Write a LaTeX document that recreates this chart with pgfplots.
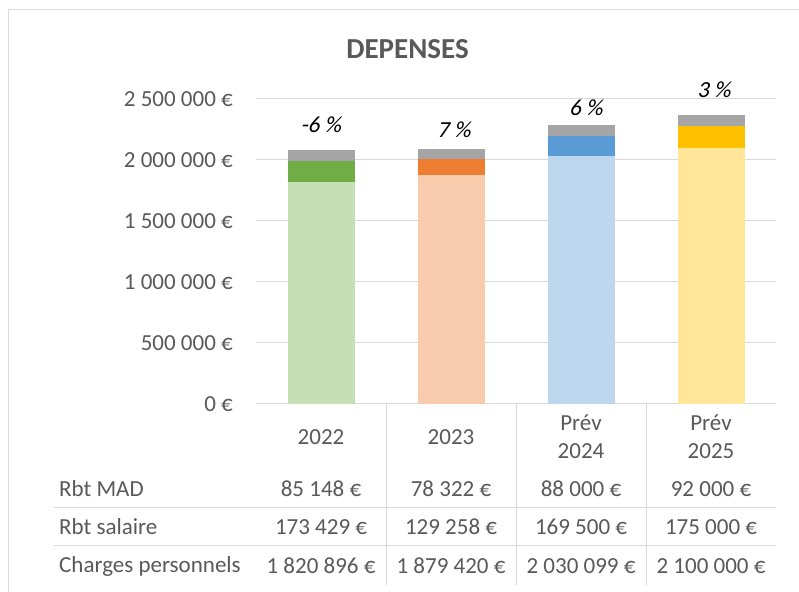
\documentclass[border=0pt]{standalone}
\usepackage{pgfplots}
\pgfplotsset{compat=1.18}
\usepackage{fontspec}
\setmainfont{Carlito}[AutoFakeSlant=0.2]
\definecolor{txt}{HTML}{595959}
\definecolor{gridc}{HTML}{D9D9D9}
\definecolor{grayb}{HTML}{A5A5A5}
\definecolor{g1}{HTML}{C5E0B4}\definecolor{g2}{HTML}{70AD47}
\definecolor{o1}{HTML}{F8CBAD}\definecolor{o2}{HTML}{ED7D31}
\definecolor{b1}{HTML}{BDD7EE}\definecolor{b2}{HTML}{5B9BD5}
\definecolor{y1}{HTML}{FFE699}\definecolor{y2}{HTML}{FFC000}
\newcommand{\fs}{\fontsize{23bp}{28bp}\selectfont}
\pgfplotsset{
  base/.style={at={(256bp,188bp)}, anchor=south west, scale only axis,
    width=520bp, height=305bp, xmin=-0.5, xmax=3.5, ymin=0, ymax=2500000,
    ybar stacked, bar width=67bp, clip=false, scaled y ticks=false},
}
\begin{document}
\begin{tikzpicture}[x=1bp,y=1bp]
\useasboundingbox (0,0) rectangle (799,592);
\fill[white] (0,0) rectangle (799,592);
\draw[gridc, line width=1bp] (8,0) -- (8,582) -- (799,582);
% axis with grid and ticks
\begin{axis}[base, axis line style={draw=none}, xtick=\empty,
  ytick={0,500000,1000000,1500000,2000000,2500000},
  yticklabels={0~€,500~000~€,1~000~000~€,1~500~000~€,2~000~000~€,2~500~000~€},
  yticklabel style={font=\fs, text=txt, inner sep=0pt, anchor=east, xshift=-23bp},
  major tick length=0pt, ymajorgrids, major grid style={gridc, line width=1bp}]
\addplot[fill=g1, draw=none] coordinates {(0,1820896)};
\addplot[fill=g2, draw=none] coordinates {(0,173429)};
\addplot[fill=grayb, draw=none] coordinates {(0,85148)};
\end{axis}
\begin{axis}[base, hide axis]
\addplot[fill=o1, draw=none] coordinates {(1,1879420)};
\addplot[fill=o2, draw=none] coordinates {(1,129258)};
\addplot[fill=grayb, draw=none] coordinates {(1,78322)};
\end{axis}
\begin{axis}[base, hide axis]
\addplot[fill=b1, draw=none] coordinates {(2,2030099)};
\addplot[fill=b2, draw=none] coordinates {(2,169500)};
\addplot[fill=grayb, draw=none] coordinates {(2,88000)};
\end{axis}
\begin{axis}[base, hide axis]
\addplot[fill=y1, draw=none] coordinates {(3,2100000)};
\addplot[fill=y2, draw=none] coordinates {(3,175000)};
\addplot[fill=grayb, draw=none] coordinates {(3,92000)};
\end{axis}
% title
\node[font=\fontsize{29bp}{34bp}\selectfont\bfseries, text=txt] at (407.5,543) {DEPENSES};
% percentage labels
\begin{scope}[every node/.style={font=\fs\itshape, text=black}]
\node at (321,467) {-6~\%};
\node at (454,462) {7~\%};
\node at (586,484) {6~\%};
\node at (714,502) {3~\%};
\end{scope}
% data table
\draw[gridc, line width=1bp] (54,84) -- (776,84) (54,46) -- (776,46);
\draw[gridc, line width=1bp] (386,188) -- (386,7) (516,188) -- (516,7) (646,188) -- (646,7);
\begin{scope}[every node/.style={font=\fs, text=txt, inner sep=0pt}]
\node at (321,155) {2022};
\node at (451,155) {2023};
\node[align=center] at (581,155) {Prév\\2024};
\node[align=center] at (711,155) {Prév\\2025};
\node[anchor=west] at (59,103) {Rbt MAD};
\node[anchor=west] at (59,65) {Rbt salaire};
\node[anchor=west] at (59,26) {Charges personnels};
\node at (321,103) {85~148~€};
\node at (451,103) {78~322~€};
\node at (581,103) {88~000~€};
\node at (711,103) {92~000~€};
\node at (321,65) {173~429~€};
\node at (451,65) {129~258~€};
\node at (581,65) {169~500~€};
\node at (711,65) {175~000~€};
\node at (321,26) {1~820~896~€};
\node at (451,26) {1~879~420~€};
\node at (581,26) {2~030~099~€};
\node at (711,26) {2~100~000~€};
\end{scope}
\end{tikzpicture}
\end{document}
